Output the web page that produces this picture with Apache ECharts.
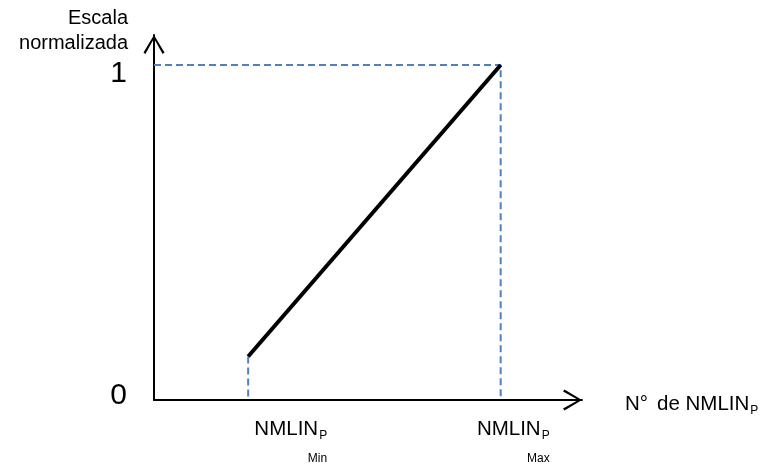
<!DOCTYPE html>
<html>
<head>
<meta charset="utf-8">
<title>Escala normalizada</title>
<script src="https://cdn.jsdelivr.net/npm/echarts@6/dist/echarts.min.js"></script>
<style>
  html, body { margin: 0; padding: 0; background: #fff; }
  #chart { width: 761px; height: 465px; }
</style>
</head>
<body>
<div id="chart"></div>
<script>
// Positions of the NMLIN_P bounds on the horizontal scale (0..100)
const xLevels = [22, 81];
const xLevelNames = ['Min', 'Max'];
// Normalised value reached at each bound
const yLevels = [0.13, 1];
// Values labelled on the vertical axis
const yTicks = [0, 1];

const FONT = '"Liberation Sans", Arial, sans-serif';
const GUIDE = '#4F81BD';
const INK = '#000';

// Normalisation line between the two bounds
const scaleLine = xLevels.map((x, i) => [x, yLevels[i]]);
// Dashed guide: from the 1 level across to the Max bound and down to the axis
const guideTop = [[0, yLevels[1]], [xLevels[1], yLevels[1]], [xLevels[1], 0]];
// Dashed guide: from the Min bound down to the axis
const guideMin = [[xLevels[0], yLevels[0]], [xLevels[0], 0]];
// Anchors for the bound labels under the horizontal axis
const boundAnchors = xLevels.map(x => [x, 0]);

// Open chevron used as axis arrowhead (points up, rotated by the axis)
const chevron = 'path://M10,0 L20,16.6 L18.2,18 L10,3.4 L1.8,18 L0,16.6 Z';

const chart = echarts.init(document.getElementById('chart'), null, { renderer: 'canvas' });

const boundLabelOffsets = [[79, 17], [49, 17]];

const richMain = { fontSize: 20.5, lineHeight: 24, color: INK, fontFamily: FONT };
const richSub = { fontSize: 12, lineHeight: 14, verticalAlign: 'bottom', color: INK, fontFamily: FONT, padding: [0, 0, 0, 1] };

chart.setOption({
  animation: false,
  backgroundColor: '#fff',
  textStyle: { fontFamily: FONT, color: INK },
  grid: { left: 154, right: 179, top: 35, bottom: 65, outerBoundsMode: 'none' },
  xAxis: {
    type: 'value',
    min: 0,
    max: 100,
    name: '{m|N°}{g|de NMLIN}{s|P}',
    nameLocation: 'end',
    nameGap: 43,
    nameTextStyle: {
      color: INK,
      padding: [9, 0, 0, 0],
      rich: {
        m: richMain,
        g: Object.assign({}, richMain, { padding: [0, 0, 0, 9] }),
        s: richSub
      }
    },
    axisLine: {
      lineStyle: { color: INK, width: 2 },
      symbol: ['none', chevron],
      symbolSize: [21, 19],
      symbolOffset: [0, -9.5]
    },
    axisTick: { show: false },
    axisLabel: { show: false },
    splitLine: { show: false }
  },
  yAxis: {
    type: 'value',
    min: 0,
    max: 1.0896,
    interval: 1,
    name: 'Escala\nnormalizada',
    nameLocation: 'end',
    nameGap: 4.5,
    nameTextStyle: {
      color: INK,
      fontSize: 20,
      lineHeight: 25,
      align: 'right',
      verticalAlign: 'middle',
      padding: [0, 26, 0, 0],
      fontFamily: FONT
    },
    axisLine: {
      lineStyle: { color: INK, width: 2 },
      symbol: ['none', chevron],
      symbolSize: [21, 19],
      symbolOffset: [0, -9.5]
    },
    axisTick: { show: false },
    splitLine: { show: false },
    axisLabel: {
      margin: 27,
      formatter: v => (yTicks.indexOf(v) === 0 ? '{z|0}' : yTicks.indexOf(v) === 1 ? '{o|1}' : ''),
      rich: {
        z: { fontSize: 30, color: INK, padding: [0, 0, 8, 0], fontFamily: FONT },
        o: { fontSize: 30, color: INK, padding: [18, 0, 0, 0], fontFamily: FONT }
      }
    }
  },
  series: [
    {
      type: 'line',
      data: guideTop,
      showSymbol: false,
      lineStyle: { color: GUIDE, width: 2, type: [7, 4] },
      z: 2
    },
    {
      type: 'line',
      data: guideMin,
      showSymbol: false,
      lineStyle: { color: GUIDE, width: 2, type: [7, 4] },
      z: 2
    },
    {
      type: 'line',
      data: scaleLine,
      showSymbol: false,
      lineStyle: { color: INK, width: 4 },
      z: 3
    },
    {
      type: 'scatter',
      data: boundAnchors,
      symbolSize: 1,
      itemStyle: { color: 'rgba(0,0,0,0)', opacity: 1 },
      silent: true,
      emphasis: { disabled: true },
      label: {
        show: true,
        position: 'bottom',
        distance: 0,
        align: 'right',
        verticalAlign: 'top',
        color: INK,
        opacity: 1,
        formatter: p => '{m|NMLIN}{s|P}\n{t|' + xLevelNames[p.dataIndex] + '}',
        rich: {
          m: richMain,
          s: richSub,
          t: { fontSize: 12, lineHeight: 34, color: INK, fontFamily: FONT }
        }
      },
      labelLayout: p => ({ dx: boundLabelOffsets[p.dataIndex][0], dy: boundLabelOffsets[p.dataIndex][1] }),
      z: 4
    }
  ]
});
</script>
</body>
</html>
